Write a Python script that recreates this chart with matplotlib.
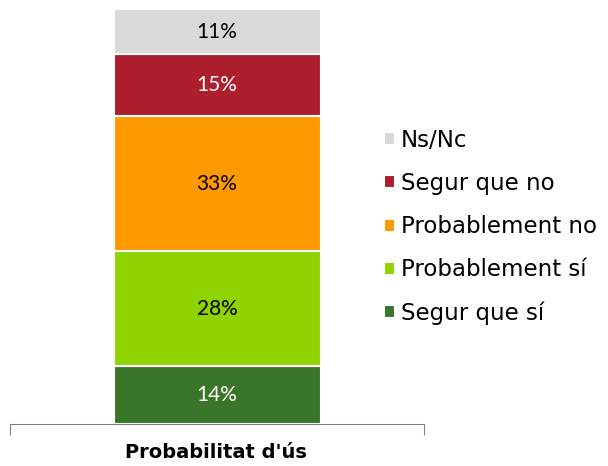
import matplotlib
matplotlib.use("Agg")
import matplotlib.pyplot as plt

# stacked from bottom to top
categories = ["Segur que sí", "Probablement sí", "Probablement no", "Segur que no", "Ns/Nc"]
values = [14, 28, 33, 15, 11]
colors = ["#3A762A", "#8FD400", "#FF9900", "#AE1F2E", "#D9D9D9"]
text_colors = ["white", "black", "black", "white", "black"]
group = "Probabilitat d'ús"

fig = plt.figure(figsize=(6.08, 4.66), dpi=100)
ax = fig.add_axes([10 / 608, 42 / 466, 414 / 608, 415 / 466])

bottom = 0
handles = []
for cat, v, c, tc in zip(categories, values, colors, text_colors):
    b = ax.bar(0.5, v, width=0.5, bottom=bottom, color=c, edgecolor="white",
               linewidth=1.5, label=cat)
    handles.append(b)
    ax.text(0.5, bottom + v / 2, f"{v}%", ha="center", va="center",
            color=tc, fontsize=15, family="Lato")
    bottom += v

ax.set_xlim(0, 1)
ax.set_ylim(0, sum(values))
for s in ["left", "right", "top"]:
    ax.spines[s].set_visible(False)
ax.spines["bottom"].set_color("#808080")
ax.set_yticks([])
ax.set_xticks([0, 1])
ax.set_xticklabels([])
ax.tick_params(axis="x", direction="out", length=8, color="#808080")
fig.text(216 / 608, 1 - 452 / 466, group, ha="center", va="center",
         fontsize=14, fontweight="bold", family="DejaVu Sans")

leg = ax.legend(handles[::-1], categories[::-1], loc="center left",
                bbox_to_anchor=(363 / 608, 1 - 227 / 466), bbox_transform=fig.transFigure,
                frameon=False, handlelength=0.5, handleheight=0.5, handletextpad=0.25,
                labelspacing=0.88, prop={"family": "DejaVu Sans", "size": 16.5})

fig.savefig("out.png", dpi=100)
